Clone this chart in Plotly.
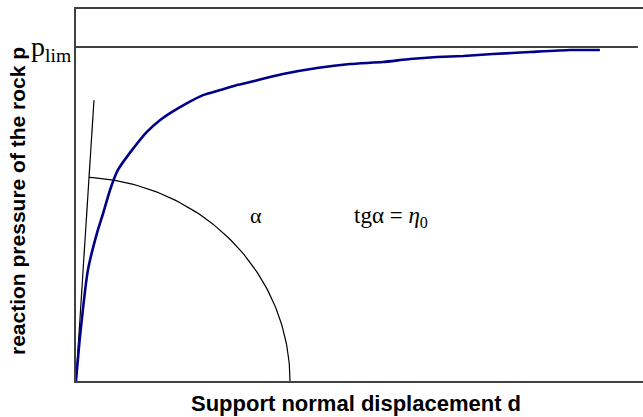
import numpy as np
import plotly.graph_objects as go

# reaction curve (arbitrary units; p normalised by p_lim)
displacement = [0.0, 0.07, 0.21, 0.37, 0.48, 0.60, 0.74, 0.95, 1.25, 1.48, 1.66, 1.96,
                2.24, 2.54, 2.84, 3.07, 3.42, 3.65, 4.25, 4.83, 5.41, 5.89, 6.37,
                6.83, 7.35, 8.01, 8.71, 9.24]
pressure = [0.0, 0.132, 0.332, 0.443, 0.503, 0.572, 0.632, 0.683, 0.746, 0.781, 0.802,
            0.832, 0.856, 0.871, 0.886, 0.895, 0.910, 0.919, 0.937, 0.949, 0.955,
            0.964, 0.970, 0.973, 0.979, 0.985, 0.991, 0.991]

p_lim = 1.0
plim_line_x = [0.0, 9.91]
tangent_x = [0.0, 0.317]
tangent_y = [0.0, 0.841]

# construction arc for the angle alpha
arc_rx = 3.774
arc_ry = 0.611

W, H = 643, 417
L, R, T, B = 76, 0, 9, 36
x_range = [0, 10]
y_range = [0, 1.1138]

# arc end where it meets the tangent line (in pixel space)
px_per_x = (W - L - R) / (x_range[1] - x_range[0])
px_per_y = (H - T - B) / (y_range[1] - y_range[0])
tan_dir = (tangent_y[1] * px_per_y) / (tangent_x[1] * px_per_x)
t_end = np.arctan(tan_dir * (arc_rx * px_per_x) / (arc_ry * px_per_y))
t = np.linspace(0, t_end, 80)
arc_x = arc_rx * np.cos(t)
arc_y = arc_ry * np.sin(t)

fig = go.Figure()
fig.add_trace(go.Scatter(x=plim_line_x, y=[p_lim, p_lim], mode="lines",
                         line=dict(color="black", width=1.4), hoverinfo="skip"))
fig.add_trace(go.Scatter(x=tangent_x, y=tangent_y, mode="lines",
                         line=dict(color="black", width=1.2), hoverinfo="skip"))
fig.add_trace(go.Scatter(x=arc_x, y=arc_y, mode="lines",
                         line=dict(color="black", width=1.2), hoverinfo="skip"))
fig.add_trace(go.Scatter(x=displacement, y=pressure, mode="lines",
                         line=dict(color="#000088", width=2.6, shape="spline",
                                   smoothing=0.5)))

serif = "Liberation Serif, Times New Roman, serif"
sans = "Liberation Sans, Arial, sans-serif"

plot_w = W - L - R
plot_h = H - T - B

fig.update_layout(
    width=W, height=H,
    margin=dict(l=L, r=R, t=T, b=B),
    paper_bgcolor="white", plot_bgcolor="white",
    showlegend=False,
    xaxis=dict(range=x_range, showline=True, mirror=True, linecolor="#404040", linewidth=2,
               showgrid=False, zeroline=False, showticklabels=False, ticks=""),
    yaxis=dict(range=y_range, showline=True, mirror=False, linecolor="#404040", linewidth=2,
               showgrid=False, zeroline=False, showticklabels=False, ticks=""),
    annotations=[
        dict(text="p<sub>lim</sub>", x=0, y=p_lim, xref="x", yref="y", xanchor="right",
             yanchor="middle", xshift=-3, yshift=-1, showarrow=False,
             font=dict(family=serif, size=28, color="black")),
        dict(text="α", x=3.18, y=0.497, xref="x", yref="y", showarrow=False,
             font=dict(family=serif, size=22, color="black")),
        dict(text="tgα = <i>η</i><sub>0</sub>", x=5.55, y=0.49, xref="x", yref="y",
             showarrow=False, font=dict(family=serif, size=23, color="black")),
        dict(text="<b>Support normal displacement d</b>", x=(356 - L) / plot_w,
             y=-(403 - (H - B)) / plot_h, xref="paper", yref="paper", yanchor="middle",
             showarrow=False, font=dict(family=sans, size=22, color="black")),
        dict(text="<b>reaction pressure of the rock p</b>", x=0, y=(H - B - 201) / plot_h,
             xref="paper", yref="paper", xanchor="center", xshift=-59, textangle=-90,
             showarrow=False, font=dict(family=sans, size=21, color="black")),
    ],
)

fig.write_html("out.html")
